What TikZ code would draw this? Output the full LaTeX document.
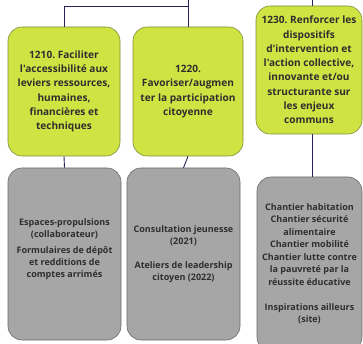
\documentclass[tikz,border=0pt]{standalone}
\usepackage{fontspec}
\setmainfont{Open Sans}[Ligatures=TeXOff]
\frenchspacing
\definecolor{lime}{HTML}{CFE443}
\definecolor{limeedge}{HTML}{7F8C3A}
\definecolor{greyfill}{HTML}{A6A6A6}
\definecolor{greyedge}{HTML}{6A6A6A}
\definecolor{navy}{HTML}{25255A}
\definecolor{ink}{HTML}{2E2E2E}
\begin{document}
\begin{tikzpicture}[x=1pt,y=-1pt,
  greenbox/.style={draw=limeedge, line width=0.6pt, fill=lime, rounded corners=14pt,
    align=center, text=ink, font=\fontsize{10.1}{14.3}\selectfont\bfseries, inner sep=0pt},
  greybox/.style={draw=greyedge, line width=0.6pt, fill=greyfill, rounded corners=14pt,
    align=center, text=ink, font=\fontsize{9}{12}\selectfont\bfseries, inner sep=0pt},
  greytext/.style={align=center, text=ink, font=\fontsize{9}{11.8}\selectfont\bfseries, inner sep=0pt},
  link/.style={draw=navy, line width=0.9pt}]
\useasboundingbox (0,0) rectangle (363,344);
\clip (0,0) rectangle (363,344);
% green boxes
\node[greenbox, minimum width=112pt, minimum height=129pt] (b1210) at (64,91.5)
  {1210. Faciliter\\l'accessibilité aux\\leviers ressources,\\humaines,\\financières et\\techniques};
\node[greenbox, minimum width=110pt, minimum height=129pt] (b1220) at (188,91.5)
  {1220.\\Favoriser/augmen\\ter la participation\\citoyenne};
\node[greenbox, minimum width=106pt, minimum height=128pt] (b1230) at (309,70)
  {1230. Renforcer les\\dispositifs\\d'intervention et\\l'action collective,\\innovante et/ou\\structurante sur\\les enjeux\\communs};
% grey boxes
\node[greybox, minimum width=113pt, minimum height=172pt] (g1) at (64.5,254) {};
\node[greytext] (t1) at (64.5,249)
  {Espaces-propulsions\\(collaborateur)\\[5pt]Formulaires de dépôt\\et redditions de\\comptes arrimés};
\node[greybox, minimum width=113pt, minimum height=172pt] (g2) at (183.5,254)
  {Consultation jeunesse\\(2021)\\[11.5pt]Ateliers de leadership\\citoyen (2022)};
\node[greybox, minimum width=105pt, minimum height=174pt, font=\fontsize{9}{12.5}\selectfont\bfseries] (g3) at (309.5,264)
  {Chantier habitation\\Chantier sécurité\\alimentaire\\Chantier mobilité\\Chantier lutte contre\\la pauvreté par la\\réussite éducative\\[12.5pt]Inspirations ailleurs\\(site)};
% connectors
\coordinate (top1) at (188,0);
\coordinate (fork) at (188,6);
\coordinate (top3) at (312,0);
\draw[link] (top1) -- (b1220.north);
\draw[link] (fork) -| (b1210.north);
\draw[link] (top3) -- (b1230.north -| top3);
\draw[link] (b1210.south) -- (g1.north);
\draw[link] (b1220.south) -- (g2.north);
\draw[link] (b1230.south -| top3) -- (g3.north -| top3);
\end{tikzpicture}
\end{document}
